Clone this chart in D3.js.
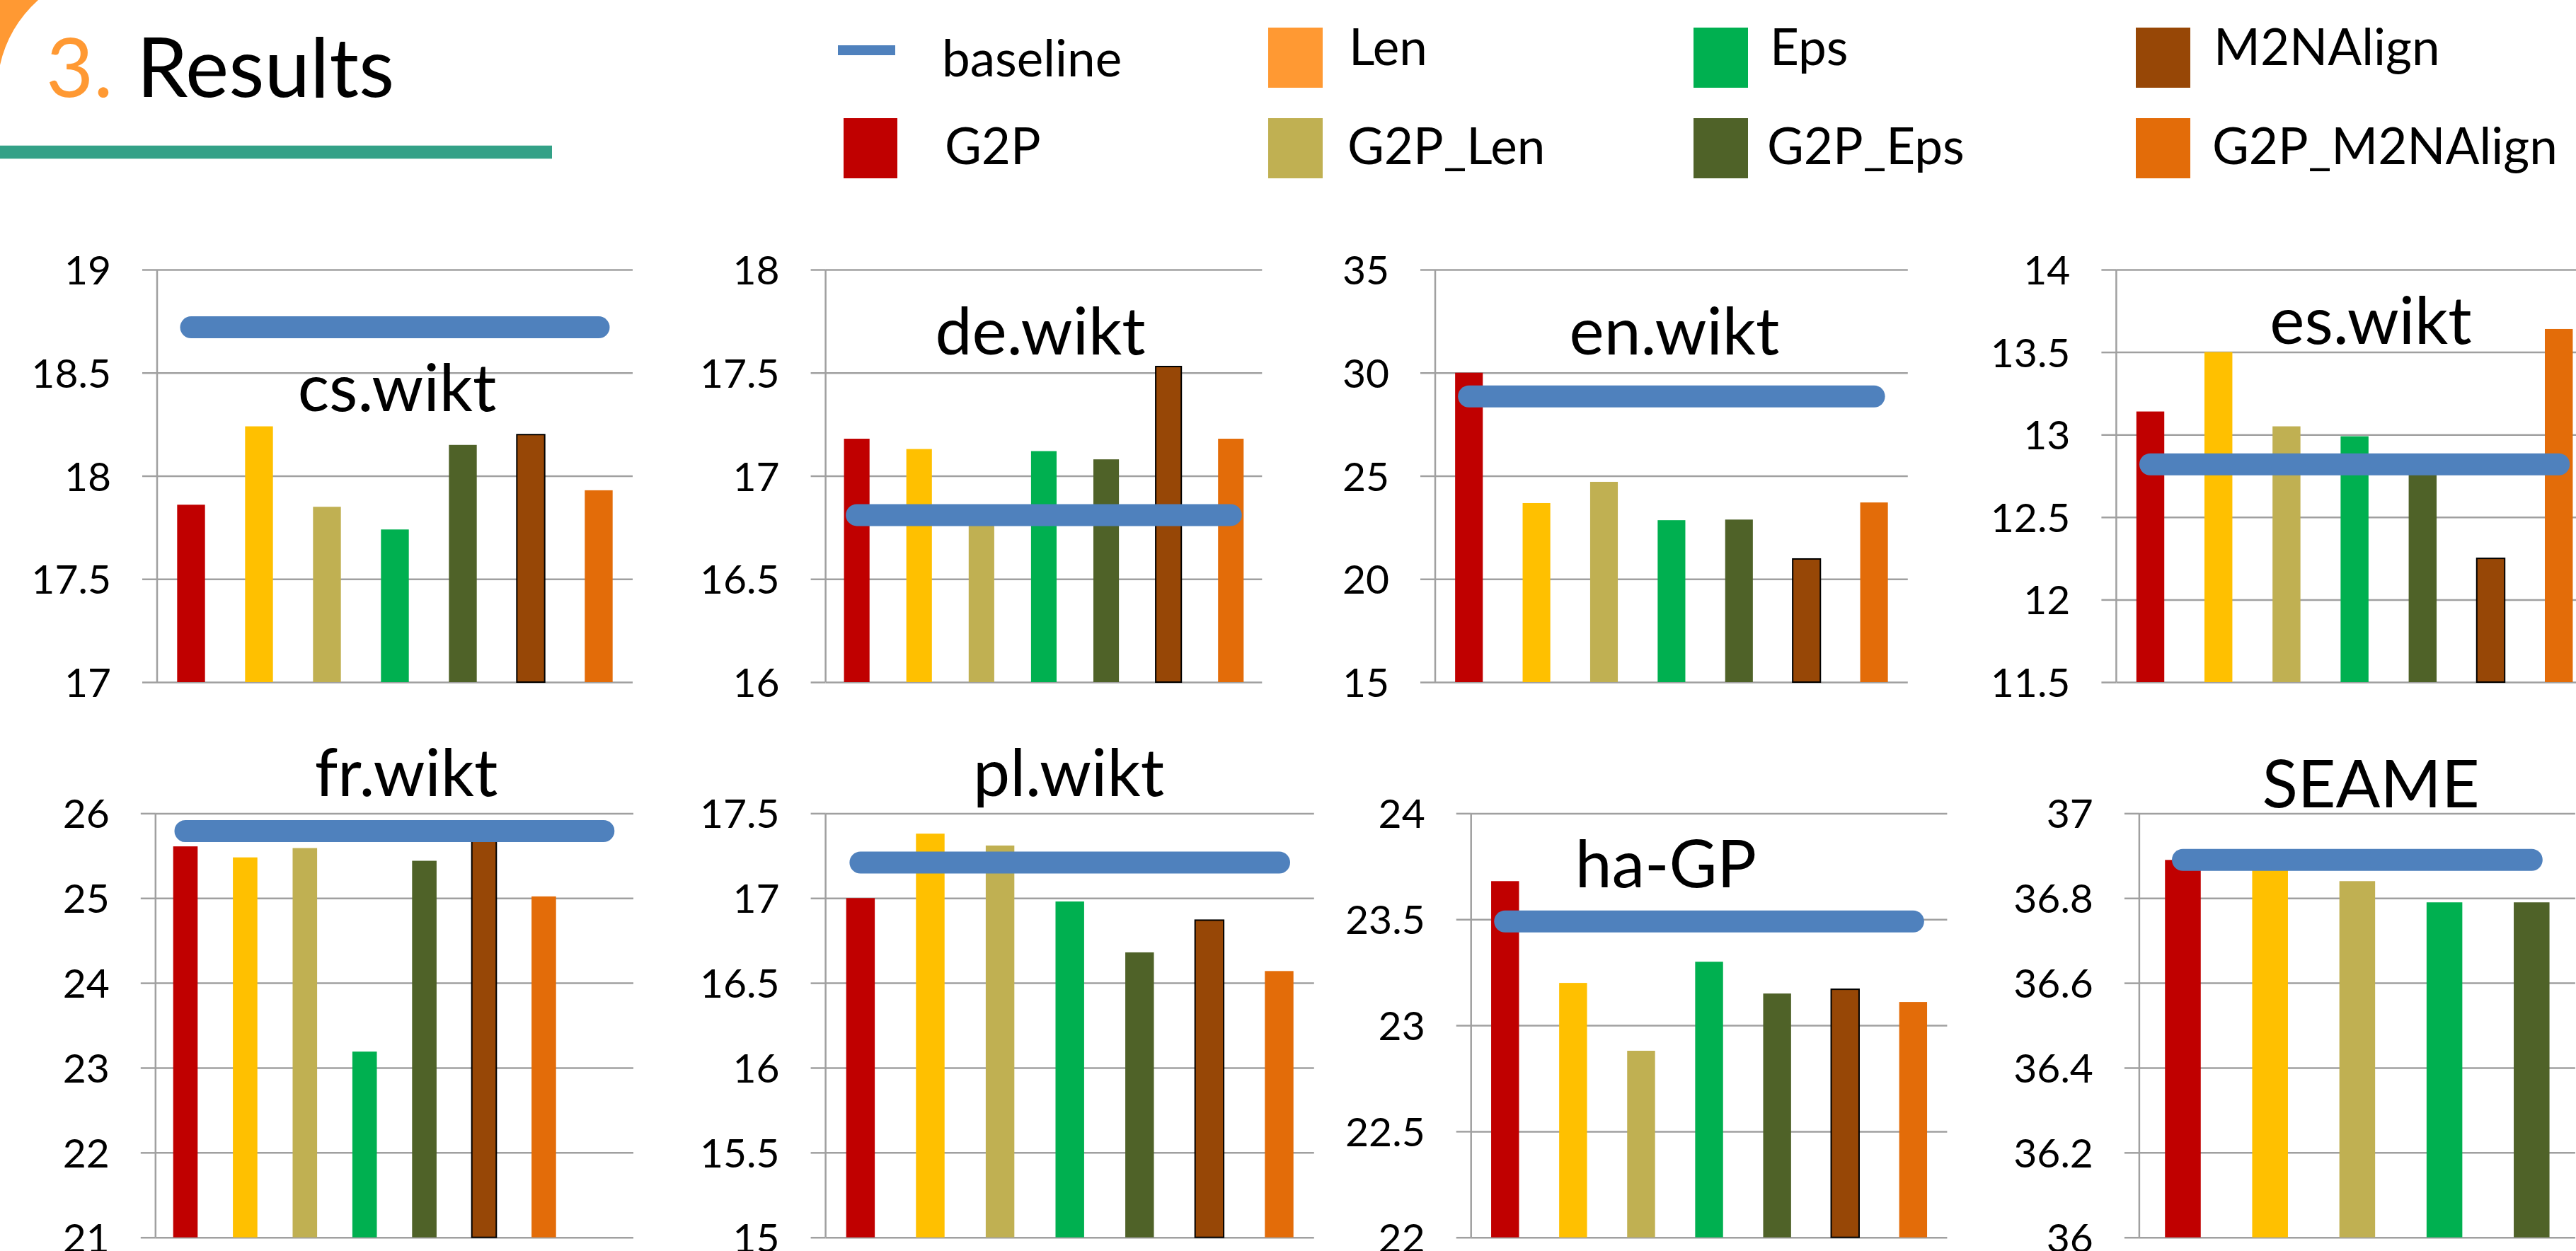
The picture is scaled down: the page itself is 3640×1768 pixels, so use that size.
<!DOCTYPE html>
<html><head><meta charset="utf-8">
<script src="https://cdn.jsdelivr.net/npm/d3@7"></script>
<style>
html,body{margin:0;padding:0;background:#fff;overflow:hidden}
text{font-family:Lato,"Open Sans",sans-serif}
</style></head><body>
<svg id="chart" width="3640" height="1768" xmlns="http://www.w3.org/2000/svg"></svg>
<script>
// ---------- DATA ----------
const methods = ["G2P","Len","G2P_Len","Eps","G2P_Eps","M2NAlign","G2P_M2NAlign"];
const datasets = ["cs.wikt","de.wikt","en.wikt","es.wikt","fr.wikt","pl.wikt","ha-GP","SEAME"];
const frCategories = ["G2P","Len","G2P_Len","Eps","G2P_Eps","M2NAlign","G2P_M2NAlign","(empty)"];
const seameCategories = ["G2P","Len","G2P_Len","Eps","G2P_Eps"];

const csWikt  = [17.86, 18.24, 17.85, 17.74, 18.15, 18.20, 17.93];
const deWikt  = [17.18, 17.13, 16.80, 17.12, 17.08, 17.53, 17.18];
const enWikt  = [30.00, 23.68, 24.71, 22.85, 22.88, 20.97, 23.71];
const esWikt  = [13.14, 13.50, 13.05, 12.99, 12.80, 12.25, 13.64];
const frWikt  = [25.61, 25.48, 25.59, 23.19, 25.44, 25.75, 25.02, null];
const plWikt  = [17.00, 17.38, 17.31, 16.98, 16.68, 16.87, 16.57];
const haGP    = [23.68, 23.20, 22.88, 23.30, 23.15, 23.17, 23.11];
const seame   = [36.89, 36.87, 36.84, 36.79, 36.79];
const baselineValues = [18.72, 16.81, 28.85, 12.82, 25.79, 17.21, 23.49, 36.89];

const csTicks = [17, 17.5, 18, 18.5, 19];
const deTicks = [16, 16.5, 17, 17.5, 18];
const enTicks = [15, 20, 25, 30, 35];
const esTicks = [11.5, 12, 12.5, 13, 13.5, 14];
const frTicks = [21, 22, 23, 24, 25, 26];
const plTicks = [15, 15.5, 16, 16.5, 17, 17.5];
const haTicks = [22, 22.5, 23, 23.5, 24];
const seameTicks = [36, 36.2, 36.4, 36.6, 36.8, 37];

const legendItems = ["baseline","Len","Eps","M2NAlign","G2P","G2P_Len","G2P_Eps","G2P_M2NAlign"];

// ---------- STYLE / LAYOUT ----------
const barColors = {G2P:"#C00000", Len:"#FFC000", G2P_Len:"#C0B052", Eps:"#00B050",
  G2P_Eps:"#4F6228", M2NAlign:"#974706", G2P_M2NAlign:"#E36C09", "(empty)":"none"};
const legendColors = {baseline:"#4F81BD", G2P:"#C00000", Len:"#FF9933", G2P_Len:"#C0B052",
  Eps:"#00B050", G2P_Eps:"#4F6228", M2NAlign:"#974706", G2P_M2NAlign:"#E36C09"};
const baselineColor = "#4F81BD";
const gridColor = "#A0A0A0";

const panels = [
  {name:datasets[0], cats:methods,        vals:csWikt, ticks:csTicks, x0:222,    step:96,   top:381,    bottom:964,    tx:561,    ty:581},
  {name:datasets[1], cats:methods,        vals:deWikt, ticks:deTicks, x0:1166.6, step:88.1, top:381,    bottom:964,    tx:1470,   ty:501},
  {name:datasets[2], cats:methods,        vals:enWikt, ticks:enTicks, x0:2028,   step:95.4, top:381,    bottom:964,    tx:2366,   ty:501},
  {name:datasets[3], cats:methods,        vals:esWikt, ticks:esTicks, x0:2990.4, step:96.2, top:381,    bottom:964,    tx:3350,   ty:486},
  {name:datasets[4], cats:frCategories,   vals:frWikt, ticks:frTicks, x0:219.8,  step:84.4, top:1149.4, bottom:1748.7, tx:574,    ty:1124.5},
  {name:datasets[5], cats:methods,        vals:plWikt, ticks:plTicks, x0:1166.6, step:98.6, top:1149.4, bottom:1748.7, tx:1510,   ty:1124.5},
  {name:datasets[6], cats:methods,        vals:haGP,   ticks:haTicks, x0:2078.7, step:96.1, top:1149.4, bottom:1748.7, tx:2354,   ty:1254},
  {name:datasets[7], cats:seameCategories,vals:seame,  ticks:seameTicks, x0:3022.9, step:123.2, top:1149.4, bottom:1748.7, tx:3350, ty:1141}
];

const svg = d3.select("#chart");
svg.append("rect").attr("width",3640).attr("height",1768).attr("fill","#fff");

// ---------- HEADER ----------
svg.append("path").attr("d","M0,0 L54,0 Q12,38 0,92 Z").attr("fill","#FF9933");
svg.append("text").attr("x",65).attr("y",137).attr("font-size",116).attr("fill","#FF9933").text("3.");
svg.append("text").attr("x",193).attr("y",137).attr("font-size",116).attr("fill","#000").text("Results");
svg.append("rect").attr("x",0).attr("y",205).attr("width",780).attr("height",20).attr("fill","#C8E6DE");
svg.append("rect").attr("x",0).attr("y",206).attr("width",780).attr("height",18).attr("fill","#33A187");

// ---------- LEGEND ----------
const legendPos = {
  baseline:{sx:1184, sy:64, sw:81, sh:14, tx:1331, ty:108},
  Len:{sx:1792, sy:39, sw:77, sh:85, tx:1906, ty:92},
  Eps:{sx:2393, sy:39, sw:77, sh:85, tx:2501, ty:92},
  M2NAlign:{sx:3018, sy:39, sw:77, sh:85, tx:3128, ty:92},
  G2P:{sx:1192, sy:167, sw:76, sh:85, tx:1335, ty:232},
  G2P_Len:{sx:1792, sy:167, sw:77, sh:85, tx:1904, ty:232},
  G2P_Eps:{sx:2393, sy:167, sw:77, sh:85, tx:2497, ty:232},
  G2P_M2NAlign:{sx:3018, sy:167, sw:77, sh:85, tx:3126, ty:232}
};
const lg = svg.append("g");
lg.selectAll("rect").data(legendItems).join("rect")
  .attr("x",d=>legendPos[d].sx).attr("y",d=>legendPos[d].sy)
  .attr("width",d=>legendPos[d].sw).attr("height",d=>legendPos[d].sh)
  .attr("fill",d=>legendColors[d]);
lg.selectAll("text").data(legendItems).join("text")
  .attr("x",d=>legendPos[d].tx).attr("y",d=>legendPos[d].ty)
  .attr("font-size",71).attr("fill","#000").text(d=>d);

// ---------- PANELS ----------
panels.forEach((p, i) => {
  const width = p.step * p.cats.length;
  const x = d3.scaleBand().domain(p.cats).range([p.x0, p.x0 + width])
    .paddingInner(0.59).paddingOuter(0.295);
  const y = d3.scaleLinear().domain([p.ticks[0], p.ticks[p.ticks.length-1]]).range([p.bottom, p.top]);
  const g = svg.append("g");

  // gridlines
  const grid = g.append("g").attr("transform",`translate(${p.x0},0)`)
    .call(d3.axisLeft(y).tickValues(p.ticks).tickSize(-width).tickFormat(""));
  grid.select(".domain").remove();
  grid.selectAll("line").attr("stroke",gridColor).attr("stroke-width",2.5);

  // tick marks + labels
  const ax = g.append("g").attr("transform",`translate(${p.x0},0)`)
    .call(d3.axisLeft(y).tickValues(p.ticks).tickSize(21).tickPadding(44).tickFormat(d=>String(d)));
  ax.select(".domain").remove();
  ax.selectAll("line").attr("stroke",gridColor).attr("stroke-width",2.5);
  ax.selectAll("text").attr("font-size",57).attr("fill","#000")
    .attr("font-family","Lato,'Open Sans',sans-serif").attr("dy","0.36em");

  // vertical axis line
  g.append("line").attr("x1",p.x0).attr("x2",p.x0).attr("y1",p.top).attr("y2",p.bottom)
    .attr("stroke",gridColor).attr("stroke-width",2.5);

  // bars
  const rows = p.cats.map((c, j) => ({cat:c, v:p.vals[j]})).filter(d => d.v != null);
  g.selectAll("rect.bar").data(rows).join("rect").attr("class","bar")
    .attr("x",d=>x(d.cat)).attr("width",x.bandwidth())
    .attr("y",d=>y(d.v)).attr("height",d=>p.bottom - y(d.v))
    .attr("fill",d=>barColors[d.cat])
    .attr("stroke",d=>d.cat==="M2NAlign" ? "#000" : "none")
    .attr("stroke-width",2);

  // baseline series
  const bl = p.cats.map(c => ({cat:c, v:baselineValues[i]}));
  g.append("path").datum(bl)
    .attr("d", d3.line().x(d=>x(d.cat)+x.bandwidth()/2).y(d=>y(d.v)))
    .attr("fill","none").attr("stroke",baselineColor).attr("stroke-width",31)
    .attr("stroke-linecap","round");

  // title
  g.append("text").attr("x",p.tx).attr("y",p.ty).attr("text-anchor","middle")
    .attr("font-size",93).attr("fill","#000").text(p.name);
});
</script>
</body></html>
